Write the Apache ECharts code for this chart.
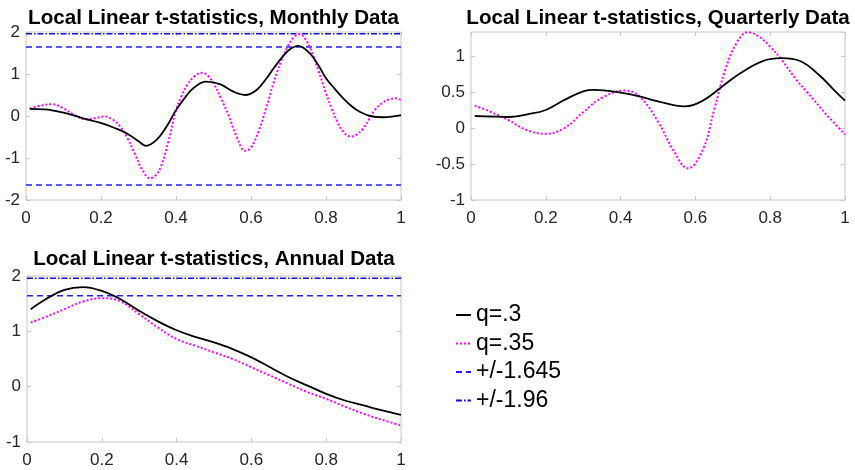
<!DOCTYPE html>
<html><head><meta charset="utf-8">
<script src="https://cdn.jsdelivr.net/npm/echarts@6/dist/echarts.min.js"></script>
<style>html,body{margin:0;padding:0;background:#fff}#c{width:855px;height:470px}</style>
</head><body><div id="c"></div><script>
// ---- data ----
const panelTitles = ['Local Linear t-statistics, Monthly Data','Local Linear t-statistics, Quarterly Data','Local Linear t-statistics, Annual Data'];
const seriesNames = ['q=.3','q=.35','+/-1.645','+/-1.96'];
const critValues = [1.645, 1.96];

const monthlyQ30 = [[0.01,0.17],[0.05,0.16],[0.1,0.08],[0.15,-0.05],[0.197,-0.16],[0.235,-0.28],[0.268,-0.41],[0.30,-0.60],[0.32,-0.71],[0.348,-0.57],[0.375,-0.25],[0.40,0.14],[0.425,0.45],[0.446,0.66],[0.48,0.82],[0.517,0.76],[0.553,0.58],[0.584,0.50],[0.615,0.62],[0.64,0.88],[0.66,1.13],[0.685,1.42],[0.704,1.59],[0.726,1.67],[0.757,1.49],[0.78,1.20],[0.80,0.90],[0.825,0.63],[0.846,0.42],[0.87,0.22],[0.89,0.10],[0.917,0.0],[0.953,-0.03],[0.98,-0.01],[1.0,0.02]];
const monthlyQ35 = [[0.01,0.18],[0.04,0.25],[0.07,0.28],[0.10,0.18],[0.13,0.02],[0.16,-0.08],[0.185,-0.05],[0.21,-0.01],[0.23,-0.08],[0.25,-0.24],[0.27,-0.52],[0.29,-0.89],[0.31,-1.28],[0.33,-1.48],[0.345,-1.42],[0.36,-1.2],[0.38,-0.6],[0.40,0.14],[0.415,0.48],[0.43,0.74],[0.45,0.95],[0.47,1.03],[0.485,0.96],[0.50,0.78],[0.52,0.42],[0.54,0.02],[0.56,-0.45],[0.585,-0.83],[0.60,-0.75],[0.62,-0.37],[0.64,0.18],[0.66,0.78],[0.68,1.30],[0.70,1.69],[0.715,1.88],[0.73,1.95],[0.745,1.83],[0.76,1.57],[0.78,1.08],[0.80,0.54],[0.815,0.18],[0.83,-0.13],[0.845,-0.36],[0.865,-0.49],[0.88,-0.45],[0.90,-0.29],[0.915,-0.08],[0.93,0.14],[0.95,0.31],[0.97,0.40],[0.985,0.42],[1.0,0.38]];

const quarterlyQ30 = [[0.01,0.167],[0.05,0.16],[0.1,0.153],[0.15,0.19],[0.2,0.25],[0.25,0.39],[0.3,0.51],[0.33,0.53],[0.4,0.49],[0.45,0.44],[0.5,0.37],[0.57,0.30],[0.62,0.38],[0.67,0.57],[0.72,0.76],[0.78,0.93],[0.83,0.97],[0.88,0.93],[0.93,0.74],[0.97,0.53],[1.0,0.38]];
const quarterlyQ35 = [[0.01,0.31],[0.05,0.23],[0.1,0.11],[0.15,-0.03],[0.2,-0.08],[0.25,0.0],[0.3,0.22],[0.35,0.42],[0.41,0.52],[0.45,0.44],[0.5,0.09],[0.54,-0.30],[0.58,-0.56],[0.62,-0.30],[0.65,0.25],[0.68,0.81],[0.71,1.18],[0.74,1.33],[0.77,1.27],[0.8,1.13],[0.83,0.95],[0.87,0.67],[0.9,0.49],[0.95,0.19],[1.0,-0.09]];

const annualQ30 = [[0.01,1.40],[0.05,1.58],[0.1,1.75],[0.15,1.80],[0.2,1.73],[0.25,1.58],[0.3,1.37],[0.35,1.18],[0.4,1.02],[0.45,0.90],[0.5,0.80],[0.55,0.68],[0.6,0.53],[0.65,0.35],[0.7,0.17],[0.75,0.02],[0.8,-0.13],[0.85,-0.25],[0.9,-0.34],[0.95,-0.43],[1.0,-0.51]];
const annualQ35 = [[0.01,1.16],[0.05,1.26],[0.1,1.40],[0.15,1.54],[0.2,1.60],[0.25,1.54],[0.3,1.31],[0.35,1.07],[0.4,0.86],[0.45,0.74],[0.5,0.62],[0.55,0.50],[0.6,0.35],[0.65,0.20],[0.7,0.05],[0.75,-0.10],[0.8,-0.22],[0.85,-0.36],[0.9,-0.49],[0.95,-0.60],[1.0,-0.70]];

// ---- layout / style ----
const FONT = '"Liberation Sans", Arial, Helvetica, sans-serif';
const AX = '#c6c6c6';
const grids = [
  {left:26, top:32, width:375, height:168},
  {left:471, top:32, width:374, height:168},
  {left:27, top:276, width:374, height:166}
];
const yRanges = [[-2,2,1,true],[-1,1.33333,0.5,false],[-1,2,1,true]];
const titleTops = [8, 8, 249];

const styles = {
  'q=.3': {color:'#000000', width:1.8, type:'solid'},
  'q=.35': {color:'#ff00ff', width:2, type:[2,2]},
  '+/-1.645': {color:'#2020ff', width:1.5, type:[6,4]},
  '+/-1.96': {color:'#1010cc', width:1.5, type:[6,2,1.5,2]}
};

const xAxis = [], yAxis = [], title = [];
grids.forEach((g, i) => {
  const [ymin, ymax, yint, showMax] = yRanges[i];
  const tick = {show:true, inside:true, length:4, lineStyle:{color:AX}};
  const line = {show:false, onZero:false};
  xAxis.push({type:'value', gridIndex:i, min:0, max:1, interval:0.2, position:'bottom',
    axisLine:line, axisTick:tick, splitLine:{show:false},
    axisLabel:{fontFamily:FONT, fontSize:17, color:'#262626', margin:10, showMinLabel:true, showMaxLabel:true}});
  xAxis.push({type:'value', gridIndex:i, min:0, max:1, interval:0.2, position:'top',
    axisLine:line, axisTick:tick, splitLine:{show:false}, axisLabel:{show:false}});
  yAxis.push({type:'value', gridIndex:i, min:ymin, max:ymax, interval:yint, position:'left',
    axisLine:line, axisTick:tick, splitLine:{show:false},
    axisLabel:{fontFamily:FONT, fontSize:17, color:'#262626', margin:6, showMinLabel:true, showMaxLabel:showMax}});
  yAxis.push({type:'value', gridIndex:i, min:ymin, max:ymax, interval:yint, position:'right',
    axisLine:line, axisTick:tick, splitLine:{show:false}, axisLabel:{show:false}});
  title.push({text:panelTitles[i], left:g.left + g.width/2, top:titleTops[i], textAlign:'center', padding:0,
    textStyle:{fontFamily:FONT, fontSize:20.6, fontWeight:'bold', color:'#000', lineHeight:20}});
});

function mk(name, gi, data, smooth) {
  return {type:'line', name, xAxisIndex:gi*2, yAxisIndex:gi*2, data, smooth:smooth, symbol:'none',
    showSymbol:false, lineStyle:styles[name], itemStyle:{color:styles[name].color},
    animation:false, silent:true, clip:true};
}
function hline(name, gi, v) { return mk(name, gi, [[0, v], [1, v]], false); }

const series = [
  hline('+/-1.645', 0, critValues[0]), hline('+/-1.645', 0, -critValues[0]), hline('+/-1.96', 0, critValues[1]),
  hline('+/-1.645', 2, critValues[0]), hline('+/-1.96', 2, critValues[1]),
  mk('q=.35', 0, monthlyQ35, 0.4), mk('q=.3', 0, monthlyQ30, 0.4),
  mk('q=.35', 1, quarterlyQ35, 0.4), mk('q=.3', 1, quarterlyQ30, 0.4),
  mk('q=.35', 2, annualQ35, 0.4), mk('q=.3', 2, annualQ30, 0.4)
];

const chart = echarts.init(document.getElementById('c'), null, {renderer:'canvas'});
chart.setOption({
  backgroundColor:'#ffffff',
  animation:false,
  title,
  grid: grids.map(g => Object.assign({show:true, borderColor:AX, borderWidth:1, backgroundColor:'transparent'}, g)),
  xAxis, yAxis,
  legend:{data:seriesNames, orient:'vertical', left:455, top:303.5, padding:0, itemWidth:15, itemHeight:2, itemGap:5.5,
    selectedMode:false, itemStyle:{opacity:0, borderWidth:0},
    textStyle:{fontFamily:FONT, fontSize:23, lineHeight:23, color:'#000'}},
  series
});
</script></body></html>
